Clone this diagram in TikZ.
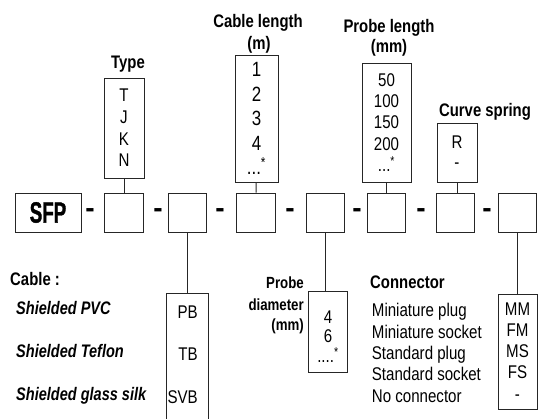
\documentclass[tikz,border=0pt]{standalone}
\usepackage{fontspec}
\setmainfont{Liberation Sans}
\newfontfamily\narrowfont[FakeStretch=0.82]{Liberation Sans}
\newfontfamily\cablefont[FakeStretch=0.8]{Liberation Sans}
\newfontfamily\logofont[FakeStretch=0.64,FakeBold=1.2]{Liberation Sans}
\usetikzlibrary{positioning}

\begin{document}
\begin{tikzpicture}[x=0.3mm, y=-0.3mm,
    code/.style={draw=black!85, line width=0.7pt, minimum width=11.6mm, minimum height=11.7mm, inner sep=0pt},
    opts/.style={draw=black!85, line width=0.7pt, inner sep=0pt, align=center},
    vals/.style={inner sep=0pt, align=center},
    head/.style={font=\narrowfont\bfseries\fontsize{15.5}{18}\selectfont, inner sep=0pt, anchor=base},
    item/.style={font=\narrowfont\fontsize{15.7}{18.2}\selectfont, inner sep=0pt},
    sep/.style={font=\bfseries\fontsize{24}{24}\selectfont, inner sep=0pt},
    link/.style={draw=black!85, line width=0.7pt}]
    \useasboundingbox (0,0) rectangle (538,419);
    \clip (0,0) rectangle (538,419);

    % Code row
    \node[draw=black!85, line width=0.7pt, minimum width=19.8mm, minimum height=11.7mm, inner sep=0pt,
          font=\logofont\bfseries\fontsize{25}{25}\selectfont] (sfp) at (48,212.5) {SFP};
    \node[code] (c1) at (124,212.5) {};
    \node[code] (c2) at (187.5,212.5) {};
    \node[code] (c3) at (256,212.5) {};
    \node[code] (c4) at (325.5,212.5) {};
    \node[code] (c5) at (386.5,212.5) {};
    \node[code] (c6) at (455.5,212.5) {};
    \node[code] (c7) at (517.5,212.5) {};
    \foreach \x/\n in {90/1,158/2,220/3,290/4,357/5,421/6,487/7}
        \node[sep] (dash\n) at (\x,213) {-};

    % Options above the row
    \node[opts, minimum width=12mm, minimum height=30mm,
          font=\narrowfont\fontsize{15.7}{18.5}\selectfont] (typebox) at (124,128) {T\\J\\K\\N};
    \node[head] (typelbl) at (128,68.3) {Type};

    \node[opts, minimum width=12.9mm, minimum height=38.1mm,
          font=\narrowfont\fontsize{17.6}{20.9}\selectfont] (lenbox) at (256.5,118.5)
          {1\\2\\3\\4\\...\textsuperscript{*}};
    \node[head] (lenlbl) at (258,27.3) {Cable length};
    \node[head] (lenunit) at (259,50) {(m)};

    \node[opts, minimum width=14.7mm, minimum height=35.7mm,
          font=\narrowfont\fontsize{15.7}{18.1}\selectfont] (probebox) at (386.5,122.5)
          {50\\100\\150\\200\\...\textsuperscript{*}};
    \node[head] (probelbl) at (389,32.3) {Probe length};
    \node[head] (probeunit) at (389,52.5) {(mm)};

    \node[opts, minimum width=12mm, minimum height=17.7mm,
          font=\narrowfont\fontsize{15.7}{17}\selectfont] (springbox) at (457,152.5) {R\\-};
    \node[head] (springlbl) at (485,116.7) {Curve spring};

    % Options below the row
    \node[draw=black!85, line width=0.7pt, minimum width=12.6mm, minimum height=41.1mm, inner sep=0pt] (cablebox) at (187,361.5) {};
    \node[head, anchor=base west] (cablelbl) at (10,285) {Cable :};
    \foreach \y/\t/\c/\cy/\n in {314/Shielded PVC/PB/318/1, 357.7/Shielded Teflon/TB/360/2, 400/Shielded glass silk/SVB/403/3} {
        \node[inner sep=0pt, anchor=base west, font=\cablefont\bfseries\itshape\fontsize{15.5}{18}\selectfont] (cable\n) at (16,\y) {\t};
        \node[item, anchor=base east] (code\n) at (198,\cy) {\c};
    }

    \node[draw=black!85, line width=0.7pt, minimum width=11.7mm, minimum height=24.2mm, inner sep=0pt] (diabox) at (327.5,332) {};
    \node[vals, font=\narrowfont\fontsize{15.7}{16.6}\selectfont] (diavals) at (328,336.5)
          {4\\6\\....\textsuperscript{*}};
    \node[head, font=\narrowfont\bfseries\fontsize{13.8}{18}\selectfont, anchor=base east] (dialbl1) at (304,288.3) {Probe};
    \node[head, font=\narrowfont\bfseries\fontsize{13.8}{18}\selectfont, anchor=base east] (dialbl2) at (304,310) {diameter};
    \node[head, font=\narrowfont\bfseries\fontsize{13.8}{18}\selectfont, anchor=base east] (dialbl3) at (304,330) {(mm)};

    \node[head, anchor=base west] (conlbl) at (370,288.3) {Connector};
    \node[item, align=left, anchor=north west] (conlist) at (371.7,303.3)
          {Miniature plug\\Miniature socket\\Standard plug\\Standard socket\\No connector};
    \node[opts, minimum width=11.7mm, minimum height=34.5mm,
          font=\narrowfont\fontsize{15.7}{18}\selectfont] (conbox) at (517.5,351.5) {MM\\FM\\MS\\FS\\-};

    % Links
    \draw[link] (typebox) -- (c1);
    \draw[link] (lenbox) -- (c3);
    \draw[link] (probebox) -- (c5);
    \draw[link] (springbox) -- (springbox |- c6.north);
    \draw[link] (c2) -- (c2 |- cablebox.north);
    \draw[link] (c4) -- (c4 |- diabox.north);
    \draw[link] (c7) -- (conbox);
\end{tikzpicture}
\end{document}
